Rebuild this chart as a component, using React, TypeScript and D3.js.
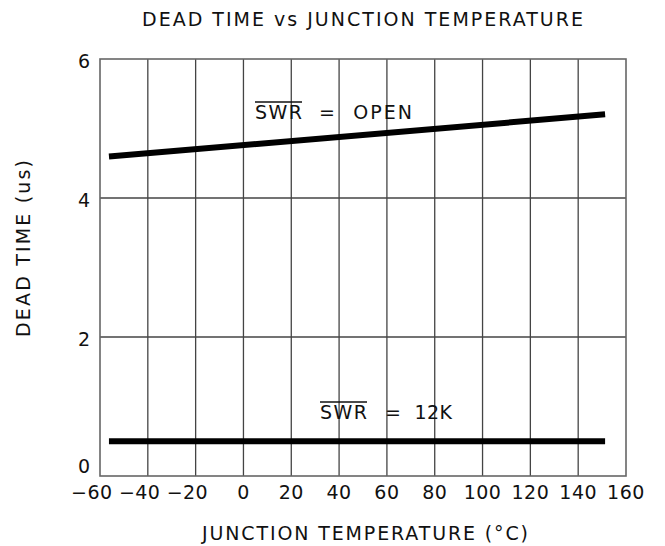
import React from "react";
import * as d3 from "d3";

const temps = [-55, 150];
const openValues = [4.6, 5.2];
const k12Values = [0.5, 0.5];
const xTicks = [-60, -40, -20, 0, 20, 40, 60, 80, 100, 120, 140, 160];
const yTicks = [0, 2, 4, 6];

const W = 665;
const H = 546;
const M = { left: 100, right: 626, top: 59, bottom: 476 };
const FONT = "'DejaVu Sans', sans-serif";
const FS = 19;

function Label({ x0, y0, rest, restX, restLen }: { x0: number; y0: number; rest: string; restX: number; restLen: number }) {
  return (
    <g>
      <text x={x0} y={y0} fontSize={FS} fill="#111" textLength={47} lengthAdjust="spacing">
        SWR
      </text>
      <line x1={x0} x2={x0 + 47} y1={y0 - 17} y2={y0 - 17} stroke="#111" strokeWidth={1.3} />
      <text x={restX} y={y0} fontSize={FS} fill="#111" textLength={restLen} lengthAdjust="spacing" xmlSpace="preserve">
        {rest}
      </text>
    </g>
  );
}

export default function App() {
  const x = d3.scaleLinear().domain([-60, 160]).range([M.left, M.right]);
  const y = d3.scaleLinear().domain([0, 6]).range([M.bottom, M.top]);
  const line = d3
    .line<[number, number]>()
    .x((d) => x(d[0]))
    .y((d) => y(d[1]));
  const openPts = temps.map((t, i) => [t, openValues[i]] as [number, number]);
  const k12Pts = temps.map((t, i) => [t, k12Values[i]] as [number, number]);

  return (
    <svg
      width={W}
      height={H}
      style={{ position: "absolute", left: 0, top: 0, background: "#fff" }}
      fontFamily={FONT}
    >
      {/* grid */}
      {xTicks.slice(1, -1).map((t) => (
        <line key={"gx" + t} x1={x(t)} x2={x(t)} y1={M.top} y2={M.bottom} stroke="#444" strokeWidth={1.3} />
      ))}
      {yTicks.slice(1, -1).map((t) => (
        <line key={"gy" + t} x1={M.left} x2={M.right} y1={y(t)} y2={y(t)} stroke="#444" strokeWidth={1.3} />
      ))}
      <rect x={M.left} y={M.top} width={M.right - M.left} height={M.bottom - M.top} fill="none" stroke="#666" strokeWidth={1.6} />

      {/* data */}
      <path d={line(openPts) || ""} fill="none" stroke="#000" strokeWidth={6} strokeLinecap="square" />
      <path d={line(k12Pts) || ""} fill="none" stroke="#000" strokeWidth={6} strokeLinecap="square" />

      {/* y tick labels */}
      {yTicks.map((t) => (
        <text
          key={"yl" + t}
          x={90}
          y={t === 0 ? y(t) - 3 : y(t) + 9}
          textAnchor="end"
          fontSize={FS}
          fill="#111"
        >
          {t}
        </text>
      ))}

      {/* x tick labels */}
      {xTicks.map((t) => (
        <g key={"xl" + t}>
          <text x={x(t)} y={499} textAnchor="middle" fontSize={FS} fill="#111" letterSpacing={0.5}>
            {Math.abs(t)}
          </text>
          {t < 0 && (
            <text x={x(t) - 13} y={499} textAnchor="end" fontSize={FS} fill="#111">
              {"\u2212"}
            </text>
          )}
        </g>
      ))}

      {/* annotations */}
      <Label x0={255} y0={119} rest="=  OPEN" restX={319} restLen={93} />
      <Label x0={320} y0={419} rest="=  12K" restX={385} restLen={67} />

      {/* titles */}
      <text x={142} y={26} fontSize={19} fill="#111" textLength={441} lengthAdjust="spacing">
        DEAD TIME vs JUNCTION TEMPERATURE
      </text>
      <text x={202} y={540} fontSize={FS} fill="#111" textLength={326} lengthAdjust="spacing">
        JUNCTION TEMPERATURE (°C)
      </text>
      <text
        transform="translate(30,337) rotate(-90)"
        x={0}
        y={0}
        fontSize={FS}
        fill="#111"
        textLength={177}
        lengthAdjust="spacing"
      >
        DEAD TIME (us)
      </text>
    </svg>
  );
}
